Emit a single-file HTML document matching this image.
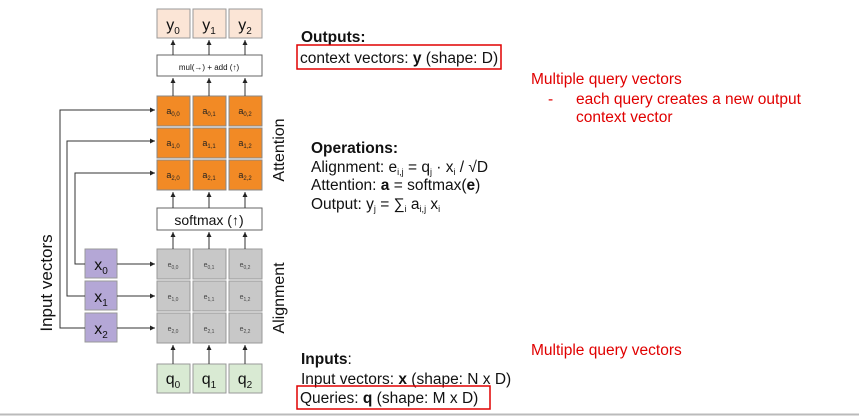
<!DOCTYPE html>
<html><head><style>body{margin:0;background:#fff}svg{display:block}</style></head><body>
<svg width="859" height="416" xmlns="http://www.w3.org/2000/svg" font-family="Liberation Sans, Arial, sans-serif">
<defs><marker id="ah" markerWidth="6" markerHeight="6" refX="5" refY="3" orient="auto"><path d="M0,0.5 L5,3 L0,5.5z" fill="#222"/></marker></defs>
<g stroke="#999" stroke-width="1">
<rect x="157" y="9" width="33" height="29" fill="#fbe5d6"/><rect x="193" y="9" width="33" height="29" fill="#fbe5d6"/><rect x="229" y="9" width="33" height="29" fill="#fbe5d6"/>
<rect x="157" y="55" width="105" height="21" fill="#fff" stroke="#666"/>
<rect x="157" y="208" width="105" height="22" fill="#fff" stroke="#666"/>
</g>
<g stroke="#888" fill="#f28a25">
<rect x="157" y="96" width="33" height="30"/><rect x="193" y="96" width="33" height="30"/><rect x="229" y="96" width="33" height="30"/>
<rect x="157" y="128" width="33" height="30"/><rect x="193" y="128" width="33" height="30"/><rect x="229" y="128" width="33" height="30"/>
<rect x="157" y="160" width="33" height="30"/><rect x="193" y="160" width="33" height="30"/><rect x="229" y="160" width="33" height="30"/>
</g>
<g stroke="#999" fill="#c8c8c8">
<rect x="157" y="249" width="33" height="30"/><rect x="193" y="249" width="33" height="30"/><rect x="229" y="249" width="33" height="30"/>
<rect x="157" y="281" width="33" height="30"/><rect x="193" y="281" width="33" height="30"/><rect x="229" y="281" width="33" height="30"/>
<rect x="157" y="313" width="33" height="30"/><rect x="193" y="313" width="33" height="30"/><rect x="229" y="313" width="33" height="30"/>
</g>
<g stroke="#999" fill="#b4a7d6">
<rect x="85" y="249" width="32" height="29"/><rect x="85" y="281" width="32" height="29"/><rect x="85" y="313" width="32" height="29"/>
</g>
<g stroke="#999" fill="#d9ead3">
<rect x="157" y="364" width="33" height="29"/><rect x="193" y="364" width="33" height="29"/><rect x="229" y="364" width="33" height="29"/>
</g>
<g stroke="#333" stroke-width="1" fill="none" marker-end="url(#ah)">
<line x1="173" y1="55" x2="173" y2="40"/><line x1="209" y1="55" x2="209" y2="40"/><line x1="245" y1="55" x2="245" y2="40"/>
<line x1="173" y1="96" x2="173" y2="78"/><line x1="209" y1="96" x2="209" y2="78"/><line x1="245" y1="96" x2="245" y2="78"/>
<line x1="173" y1="208" x2="173" y2="192"/><line x1="209" y1="208" x2="209" y2="192"/><line x1="245" y1="208" x2="245" y2="192"/>
<line x1="173" y1="249" x2="173" y2="232"/><line x1="209" y1="249" x2="209" y2="232"/><line x1="245" y1="249" x2="245" y2="232"/>
<line x1="173" y1="364" x2="173" y2="345"/><line x1="209" y1="364" x2="209" y2="345"/><line x1="245" y1="364" x2="245" y2="345"/>
<line x1="117" y1="264" x2="155" y2="264"/><line x1="117" y1="296" x2="155" y2="296"/><line x1="117" y1="328" x2="155" y2="328"/>
<path d="M85,264 H75 V173 H155"/><path d="M85,296 H67 V141 H155"/><path d="M85,328 H60 V110 H155"/>
</g>
<g font-size="16" text-anchor="middle" fill="#111">
<text x="173" y="30">y<tspan font-size="10" dy="4">0</tspan></text><text x="209" y="30">y<tspan font-size="10" dy="4">1</tspan></text><text x="245" y="30">y<tspan font-size="10" dy="4">2</tspan></text>
<text x="101" y="270">x<tspan font-size="10" dy="4">0</tspan></text><text x="101" y="302">x<tspan font-size="10" dy="4">1</tspan></text><text x="101" y="334">x<tspan font-size="10" dy="4">2</tspan></text>
<text x="173" y="384">q<tspan font-size="10" dy="4">0</tspan></text><text x="209" y="384">q<tspan font-size="10" dy="4">1</tspan></text><text x="245" y="384">q<tspan font-size="10" dy="4">2</tspan></text>
<text x="209" y="70" font-size="8">mul(→) + add (↑)</text>
<text x="209" y="225" font-size="14">softmax (↑)</text>
</g>
<g font-size="9" text-anchor="middle" fill="#222">
<text x="173" y="114">a<tspan font-size="6" dy="2">0,0</tspan></text><text x="209" y="114">a<tspan font-size="6" dy="2">0,1</tspan></text><text x="245" y="114">a<tspan font-size="6" dy="2">0,2</tspan></text>
<text x="173" y="146">a<tspan font-size="6" dy="2">1,0</tspan></text><text x="209" y="146">a<tspan font-size="6" dy="2">1,1</tspan></text><text x="245" y="146">a<tspan font-size="6" dy="2">1,2</tspan></text>
<text x="173" y="178">a<tspan font-size="6" dy="2">2,0</tspan></text><text x="209" y="178">a<tspan font-size="6" dy="2">2,1</tspan></text><text x="245" y="178">a<tspan font-size="6" dy="2">2,2</tspan></text>
</g>
<g font-size="7" text-anchor="middle" fill="#444">
<text x="173" y="267">e<tspan font-size="5" dy="2">0,0</tspan></text><text x="209" y="267">e<tspan font-size="5" dy="2">0,1</tspan></text><text x="245" y="267">e<tspan font-size="5" dy="2">0,2</tspan></text>
<text x="173" y="299">e<tspan font-size="5" dy="2">1,0</tspan></text><text x="209" y="299">e<tspan font-size="5" dy="2">1,1</tspan></text><text x="245" y="299">e<tspan font-size="5" dy="2">1,2</tspan></text>
<text x="173" y="331">e<tspan font-size="5" dy="2">2,0</tspan></text><text x="209" y="331">e<tspan font-size="5" dy="2">2,1</tspan></text><text x="245" y="331">e<tspan font-size="5" dy="2">2,2</tspan></text>
</g>
<g font-size="16" fill="#111" text-anchor="middle">
<text transform="translate(284,150) rotate(-90)">Attention</text>
<text transform="translate(284,298) rotate(-90)">Alignment</text>
<text transform="translate(52,283) rotate(-90)" font-size="17">Input vectors</text>
</g>
<g font-size="15.5" fill="#111">
<text x="301" y="42" font-weight="bold">Outputs:</text>
<text x="300" y="63">context vectors: <tspan font-weight="bold">y</tspan> (shape: D)</text>
<text x="311" y="153" font-weight="bold">Operations:</text>
<text x="311" y="172">Alignment: e<tspan font-size="9" dy="3">i,j</tspan><tspan dy="-3"> = q</tspan><tspan font-size="9" dy="3">j</tspan><tspan dy="-3"> · x</tspan><tspan font-size="9" dy="3">i</tspan><tspan dy="-3"> / √D</tspan></text>
<text x="311" y="190">Attention: <tspan font-weight="bold">a</tspan> = softmax(<tspan font-weight="bold">e</tspan>)</text>
<text x="311" y="209">Output: y<tspan font-size="9" dy="3">j</tspan><tspan dy="-3"> = ∑</tspan><tspan font-size="9" dy="3">i</tspan><tspan dy="-3"> a</tspan><tspan font-size="9" dy="3">i,j</tspan><tspan dy="-3"> x</tspan><tspan font-size="9" dy="3">i</tspan></text>
<text x="301" y="364"><tspan font-weight="bold">Inputs</tspan>:</text>
<text x="301" y="384">Input vectors: <tspan font-weight="bold">x</tspan> (shape: N x D)</text>
<text x="300" y="403">Queries: <tspan font-weight="bold">q</tspan> (shape: M x D)</text>
</g>
<g font-size="15.5" fill="#e00000">
<text x="531" y="84">Multiple query vectors</text>
<text x="548" y="104">-</text>
<text x="576" y="104">each query creates a new output</text>
<text x="576" y="122">context vector</text>
<text x="531" y="355">Multiple query vectors</text>
</g>
<rect x="297" y="45" width="204" height="24" fill="none" stroke="#e00000" stroke-width="1.5"/>
<rect x="297" y="386" width="193" height="23" fill="none" stroke="#e00000" stroke-width="1.5"/>
<line x1="0" y1="414.5" x2="859" y2="414.5" stroke="#bbb" stroke-width="2"/>
</svg>
</body></html>
